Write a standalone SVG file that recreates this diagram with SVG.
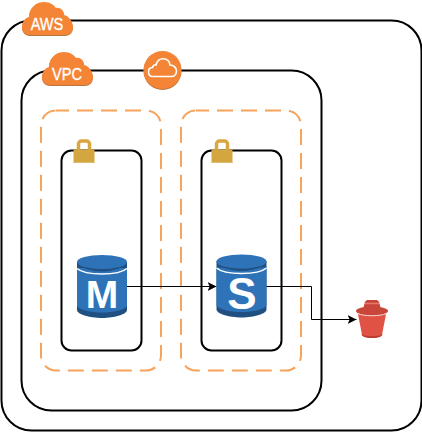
<svg xmlns="http://www.w3.org/2000/svg" width="422" height="432" viewBox="0 0 422 432">
<style>
.box{fill:none;stroke:#000;stroke-width:2}
.sub{fill:none;stroke:#f7a35c;stroke-width:2;stroke-dasharray:16 8;stroke-dashoffset:3}
.lbl{font-family:"Liberation Sans",Arial,sans-serif;fill:#fff;stroke:#fff;stroke-width:.35;text-anchor:middle}
.big{font-family:"Liberation Sans",Arial,sans-serif;font-weight:bold;fill:#fff;text-anchor:middle}
.edge{fill:none;stroke:#000;stroke-width:1}
.db{fill:#2e73b8}.dbd{fill:#205081}
</style>
<defs>
<marker id="ah" markerUnits="userSpaceOnUse" markerWidth="10" markerHeight="10" refX="9" refY="5" orient="auto"><path d="M0 .5L9 5L0 9.500L2.200 5Z" fill="#000"/></marker>
<path id="cl" d="M30 35C25 35 22 31 22 27C22 22 25 18 29 17C29 8 36 2 44 2C50 2 54 5 56 8C60 7 64 10 64 15C69 16 73 22 73 27C73 32 69 35 65 35Z"/>
<g id="lock"><path d="M-5.500 2V-6a3 3 0 0 1 3-3h5a3 3 0 0 1 3 3V2" fill="none" stroke="#d9a741" stroke-width="3.500"/><rect x="-10.500" y="-.5" width="21" height="13.500" fill="#d4a63f"/><rect x="-10.500" y="12" width="21" height="1" fill="#e0bd70"/></g>
<g id="cyl">
<path class="dbd" d="M-25 8V56C-25 60-13 64 0 64S25 60 25 56V8Z"/>
<path class="db" d="M-25 14V52C-22 56-12 58.500 0 58.500S22 56 25 52V14Z"/>
<path d="M-25 14.500C-21 18-11 20 0 20S21 18 25 14.500" fill="none" stroke="#fff" stroke-width="1.500"/>
<path class="dbd" d="M-25 8C-25 12-13 17.500 0 17.500S25 12 25 8Z"/>
<ellipse cx="0" cy="8" rx="25" ry="7" class="db"/>
</g>
</defs>
<g id="aws"><rect class="box" x="1.500" y="20.500" width="420" height="410" rx="30"/>
<use href="#cl" y="1" fill="#b9763c"/><use href="#cl" fill="#f58536"/>
<text class="lbl" transform="translate(47 30) scale(.86 1)" font-size="17">AWS</text></g>
<g id="vpc"><rect class="box" x="21.500" y="70.500" width="300" height="340" rx="30"/>
<g transform="translate(20 50)"><use href="#cl" y="1" fill="#b9763c"/><use href="#cl" fill="#f58536"/></g>
<text class="lbl" transform="translate(67 80) scale(.86 1)" font-size="17">VPC</text></g>
<g id="gateway"><circle cx="162.500" cy="71" r="19" fill="#b9763c"/><circle cx="162.500" cy="70" r="19" fill="#f58536"/>
<path d="M153 76.500C149.500 76.500 148.500 74 148.500 72C148.500 69 150.500 67.500 152.500 67.500C152.800 65.500 154.500 64.500 156 65C157 61 160 58.800 163 58.800C167 58.800 169.500 61.500 170 65C174 65 176.500 68 176.500 71C176.500 74.500 174 76.500 171 76.500Z" fill="none" stroke="#fff" stroke-width="1.600"/></g>
<g id="subnet1"><rect class="sub" x="41" y="110.500" width="120" height="260" rx="15"/></g>
<g id="subnet2"><rect class="sub" x="181" y="110.500" width="120" height="260" rx="15"/></g>
<g id="instance1"><rect class="box" x="61.500" y="150.500" width="80" height="200" rx="10"/><use href="#lock" x="84" y="150"/></g>
<g id="instance2"><rect class="box" x="201.500" y="150.500" width="80" height="200" rx="10"/><use href="#lock" x="222" y="150"/></g>
<g id="connectors">
<path class="edge" d="M127 286.500H216.500" marker-end="url(#ah)"/>
<path class="edge" d="M266 286.500H311.500V319.500H356.500" marker-end="url(#ah)"/>
</g>
<g id="master"><use href="#cyl" x="102" y="254"/><text class="big" x="102" y="308" font-size="39">M</text></g>
<g id="slave"><use href="#cyl" x="241.500" y="253.500"/><text class="big" x="242" y="309" font-size="44">S</text></g>
<g id="bucket">
<path d="M363 309L365 302C365.500 300.500 367 300 368 300H376C377 300 378.500 300.500 379 302L381 309Z" fill="#c9473a"/>
<path d="M365 303.500H379" stroke="#e9776a" stroke-width="1.500"/>
<path d="M358 314H386L382 335C381 339 363 339 362 335Z" fill="#e05243"/>
<path d="M361 334C366 337 378 337 383 334L382 335C381 339 363 339 362 335Z" fill="#b93c30"/>
<ellipse cx="372" cy="311" rx="16" ry="4.500" fill="#c9473a"/>
<path d="M357.500 313.500C364 316.500 380 316.500 386.500 313.500" fill="none" stroke="#f7d7d2" stroke-width="1"/>
</g>
</svg>
